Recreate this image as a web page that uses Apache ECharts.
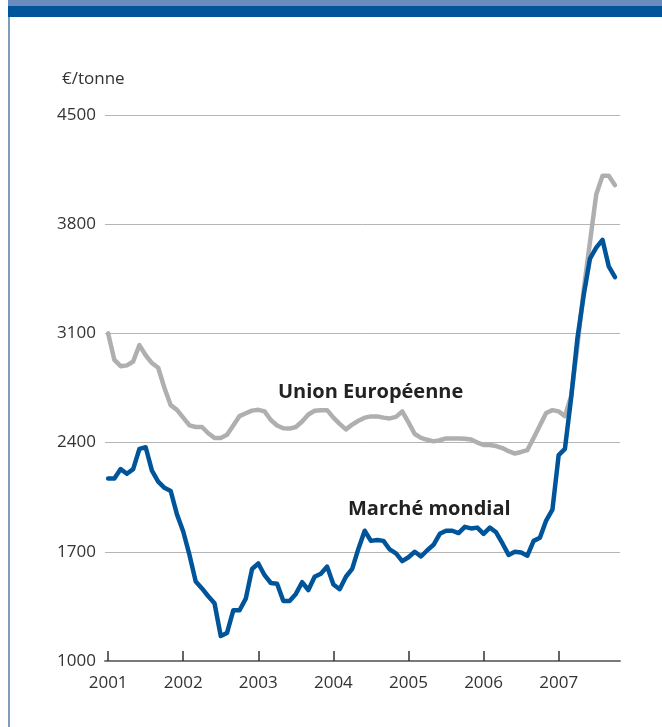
<!DOCTYPE html>
<html><head><meta charset="utf-8">
<script src="https://cdn.jsdelivr.net/npm/echarts@6/dist/echarts.min.js"></script>
<style>html,body{margin:0;padding:0;background:#fff}#c{width:662px;height:727px}</style>
</head><body><div id="c"></div>
<script>
// Monthly prices, Jan 2001 .. Oct 2007 (index = months since Jan 2001)
const yearLabels = ['2001','2002','2003','2004','2005','2006','2007'];
const yTicks = [1000, 1700, 2400, 3100, 3800, 4500];
const unitLabel = '€/tonne';
const seriesNames = ['Union Européenne', 'Marché mondial'];
const euPrice = [
 3100,2930,2890,2895,2920,3025,2960,2910,2880,2750,2640,2610,
 2560,2510,2500,2500,2460,2430,2430,2450,2510,2570,2588,2605,
 2610,2600,2545,2510,2492,2490,2500,2535,2580,2604,2608,2608,
 2560,2520,2485,2515,2540,2560,2568,2568,2560,2555,2565,2600,
 2530,2455,2430,2418,2408,2415,2427,2427,2427,2425,2420,2400,
 2385,2385,2378,2365,2345,2330,2340,2352,2430,2510,2590,2608,
 2600,2570,2700,3020,3380,3685,3990,4110,4110,4050
];
const worldPrice = [
 2170,2170,2230,2200,2230,2360,2370,2220,2150,2110,2090,1940,
 1830,1680,1510,1465,1415,1370,1160,1180,1325,1325,1400,1590,
 1625,1550,1500,1495,1385,1385,1430,1505,1455,1540,1560,1605,
 1490,1460,1540,1590,1720,1835,1770,1775,1770,1715,1690,1640,
 1665,1700,1670,1710,1745,1815,1835,1835,1820,1860,1850,1855,
 1815,1855,1825,1755,1680,1700,1695,1675,1770,1790,1900,1970,
 2320,2360,2690,3070,3345,3580,3650,3700,3530,3460
];

const FONT = '"Open Sans", "Liberation Sans", sans-serif';
const euData = euPrice.map((v, i) => [i, v]);
const wmData = worldPrice.map((v, i) => [i, v]);
const yearTicks = yearLabels.map((y, i) => i * 12);

const chart = echarts.init(document.getElementById('c'), null, {renderer: 'canvas'});
chart.setOption({
  animation: false,
  backgroundColor: '#ffffff',
  grid: {left: 105, right: 42, top: 115, bottom: 66, containLabel: false},
  xAxis: {
    type: 'value', min: -0.5, max: 81.8,
    axisLine: {show: true, lineStyle: {color: '#7a7a7a', width: 2}},
    axisTick: {show: true, inside: true, length: 10, customValues: yearTicks,
      lineStyle: {color: '#333', width: 1.5}},
    axisLabel: {customValues: yearTicks, margin: 14, color: '#333', fontSize: 17, fontFamily: FONT,
      formatter: v => yearLabels[Math.round(v / 12)] || ''},
    splitLine: {show: false}
  },
  yAxis: {
    type: 'value', min: yTicks[0], max: yTicks[yTicks.length - 1], interval: 700,
    axisLine: {show: false}, axisTick: {show: false},
    axisLabel: {margin: 9, color: '#333', fontSize: 17, fontFamily: FONT, formatter: v => String(v)},
    splitLine: {show: true, lineStyle: {color: '#b5b5b5', width: 1}}
  },
  series: [
    {name: seriesNames[0], type: 'line', data: euData, showSymbol: false, z: 2,
      lineStyle: {color: '#aeafb1', width: 4.5, join: 'round', cap: 'round'}},
    {name: seriesNames[1], type: 'line', data: wmData, showSymbol: false, z: 3,
      lineStyle: {color: '#00559a', width: 4.5, join: 'round', cap: 'round'}}
  ],
  graphic: [
    {type: 'rect', shape: {x: 8, y: 0, width: 654, height: 6}, style: {fill: '#6b8cbe'}, silent: true},
    {type: 'rect', shape: {x: 8, y: 6, width: 654, height: 11}, style: {fill: '#00559a'}, silent: true},
    {type: 'rect', shape: {x: 8, y: 17, width: 2, height: 710}, style: {fill: '#7f9db8'}, silent: true},
    {type: 'text', left: 62, top: 71, style: {text: unitLabel, fill: '#333', font: '17px ' + FONT}},
    {type: 'text', left: 278, top: 382, style: {text: seriesNames[0], fill: '#222', font: 'bold 20px ' + FONT}},
    {type: 'text', left: 348, top: 499, style: {text: seriesNames[1], fill: '#222', font: 'bold 20px ' + FONT}}
  ]
});
</script></body></html>
